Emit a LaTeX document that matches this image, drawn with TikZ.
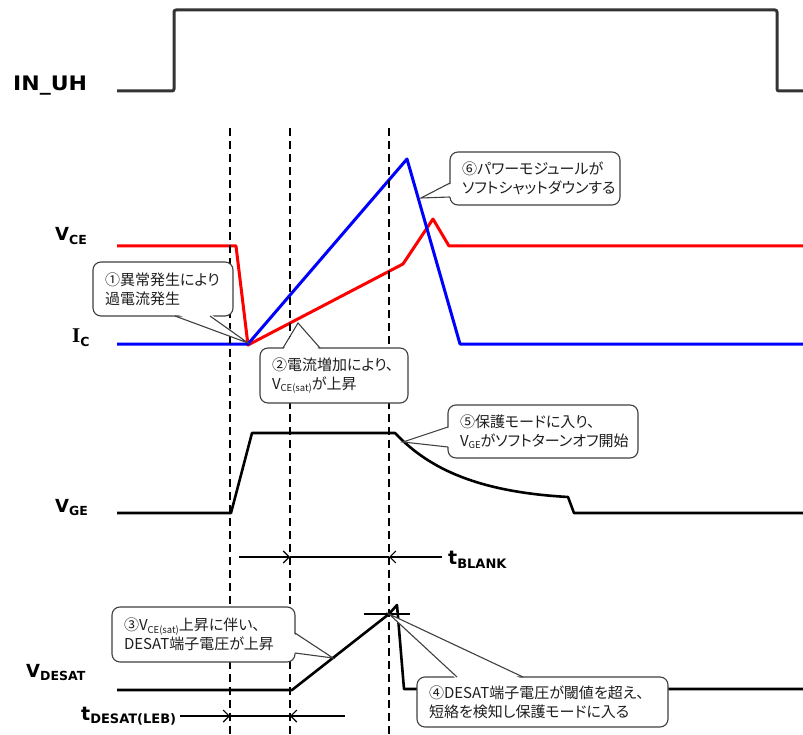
\documentclass[tikz,border=0pt]{standalone}
\usepackage{fontspec}
\usetikzlibrary{arrows.meta}
\newfontfamily\jpfont[RawFeature={+palt}]{Noto Sans CJK JP}
\newfontfamily\labfont{DejaVu Sans}
\newfontfamily\serfont{Liberation Serif}
\definecolor{wavegray}{HTML}{333333}
\definecolor{cbord}{HTML}{404040}
\definecolor{ctext}{HTML}{1E1E1E}
\newcommand{\biglab}[2]{{\fontsize{18}{18}\selectfont #1}\raisebox{-3.5pt}{\fontsize{12.5}{12.5}\selectfont #2}}
\newcommand{\csub}[1]{\raisebox{-2.5pt}{\fontsize{9.5}{9.5}\selectfont #1}}
\begin{document}
\begin{tikzpicture}[x=1pt,y=-1pt,
  lab/.style={anchor=base west,inner sep=0pt,font=\labfont\bfseries},
  wavek/.style={draw=black,line width=2.6pt,line join=round},
  sig/.style={draw=wavegray,line width=3pt,line join=round},
  redw/.style={draw=red,line width=3pt,line join=round},
  bluew/.style={draw=blue,line width=3pt,line join=round},
  guide/.style={draw=black,line width=2.8pt,dash pattern=on 8pt off 5pt},
  callbox/.style={draw=cbord,line width=1.1pt,fill=white,rounded corners=8pt,
     align=left,inner xsep=12pt,inner ysep=0pt,text=ctext,
     font=\jpfont\fontsize{15}{19}\selectfont},
  callline/.style={draw=cbord,line width=1.1pt,line join=miter},
  dimarr/.style={draw=black,line width=1.1pt,-{Straight Barb[length=6pt,width=12pt]}},
  dimline/.style={draw=black,line width=1.1pt}]
\useasboundingbox (0,0) rectangle (803,735);
\fill[white] (0,0) rectangle (803,735);

% ---------- labels ----------
\node[lab,font=\labfont\bfseries\fontsize{20}{20}\selectfont] (lin) at (13,91) {\scalebox{1.1}[1]{IN\_UH}};
\node[lab] (lvce) at (55,241) {\biglab{V}{CE}};
\node[lab] (lic) at (72,342) {{\serfont\bfseries\fontsize{21}{21}\selectfont I}\raisebox{-4pt}{\fontsize{12.5}{12.5}\selectfont C}};
\node[lab] (lvge) at (55,512) {\biglab{V}{GE}};
\node[lab] (lvd) at (26,677) {\biglab{V}{DESAT}};
\node[lab] (ltb) at (448,564) {{\fontsize{19}{19}\selectfont t}\raisebox{-4pt}{\fontsize{13}{13}\selectfont BLANK}};
\node[lab] (ltd) at (81,720) {{\fontsize{19}{19}\selectfont t}\raisebox{-3.5pt}{\fontsize{13}{13}\selectfont DESAT(LEB)}};

% ---------- IN_UH ----------
\draw[sig,rounded corners=2pt] (117,91) -- (174,91) -- (174,10) -- (777,10) -- (777,91) -- (803,91);

% ---------- VCE / IC ----------
\draw[redw] (117,246) -- (236,246) -- (248,345) -- (403,264) -- (433,219) -- (449,246) -- (803,246);
\draw[bluew] (117,344) -- (248,344) -- (407,159) -- (460,344) -- (803,344);

% ---------- VGE ----------
\draw[wavek] (117,513) -- (231,513) -- (252,433) -- (395,433)
  .. controls (430,470) and (480,492) .. (568,497) -- (574,513) -- (803,513);

% ---------- VDESAT ----------
\draw[wavek] (117,690) -- (292,690) -- (389,614) -- (397,605) -- (404,689) -- (803,689);
\draw[line width=1.1pt] (364,614) -- (410,614);

% ---------- dashed guides ----------
\draw[guide] (230,128) -- (230,735);
\draw[guide] (290,128) -- (290,735);
\draw[guide] (389,128) -- (389,735);

% ---------- dimension arrows ----------
\coordinate (b0) at (239,557); \coordinate (b1) at (290,557);
\coordinate (b2) at (389,557); \coordinate (b3) at (442,557);
\draw[dimarr] (b0) -- (b1);
\draw[dimline] (b1) -- (b2);
\draw[dimarr] (b3) -- (b2);
\coordinate (d0) at (180,716); \coordinate (d1) at (230,716);
\coordinate (d2) at (290,716); \coordinate (d3) at (345,716);
\draw[dimarr] (d0) -- (d1);
\draw[dimline] (d1) -- (d2);
\draw[dimarr] (d3) -- (d2);

% ---------- callouts ----------
% 1
\node[callbox,text width=116pt,minimum height=54pt] (c1) at (163,289)
  {①異常発生により\\過電流発生};
\coordinate (t1) at (248,343);
\fill[white] (175,313.5) -- (t1) -- (210,313.5) -- cycle;
\draw[callline] (175,316) -- (t1) -- (210,316);
% 2
\node[callbox,text width=124pt,minimum height=55pt] (c2) at (334,375.5)
  {②電流増加により、\\V\csub{CE(sat)}が上昇};
\coordinate (t2) at (298,323);
\fill[white] (283,350.5) -- (t2) -- (320,350.5) -- cycle;
\draw[callline] (283,348) -- (t2) -- (320,348);
% 3
\node[callbox,text width=159pt,minimum height=55pt] (c3) at (203.5,634.5)
  {③V\csub{CE(sat)}上昇に伴い、\\DESAT端子電圧が上昇};
\coordinate (t3) at (333,658);
\fill[white] (292.5,633) -- (t3) -- (292.5,653) -- cycle;
\draw[callline] (295,633) -- (t3) -- (295,653);
% 4
\node[callbox,text width=227pt,minimum height=50pt] (c4) at (542.5,702)
  {④DESAT端子電圧が閾値を超え、\\短絡を検知し保護モードに入る};
\coordinate (t4) at (389,614);
\fill[white] (457,679.5) -- (t4) -- (523,679.5) -- cycle;
\draw[callline] (457,677) -- (t4) -- (523,677);
% 5
\node[callbox,text width=166pt,minimum height=53pt] (c5) at (543,431.5)
  {⑤保護モードに入り、\\V\csub{GE}がソフトターンオフ開始};
\coordinate (t5) at (403,442);
\fill[white] (450.5,427) -- (t5) -- (450.5,447) -- cycle;
\draw[callline] (448,427) -- (t5) -- (448,447);
% 6
\node[callbox,text width=146pt,minimum height=53pt] (c6) at (535,178.5)
  {⑥パワーモジュールが\\ソフトシャットダウンする};
\coordinate (t6) at (421,198);
\fill[white] (452.5,183) -- (t6) -- (452.5,197) -- cycle;
\draw[callline] (450,183) -- (t6) -- (450,197);
\end{tikzpicture}
\end{document}
